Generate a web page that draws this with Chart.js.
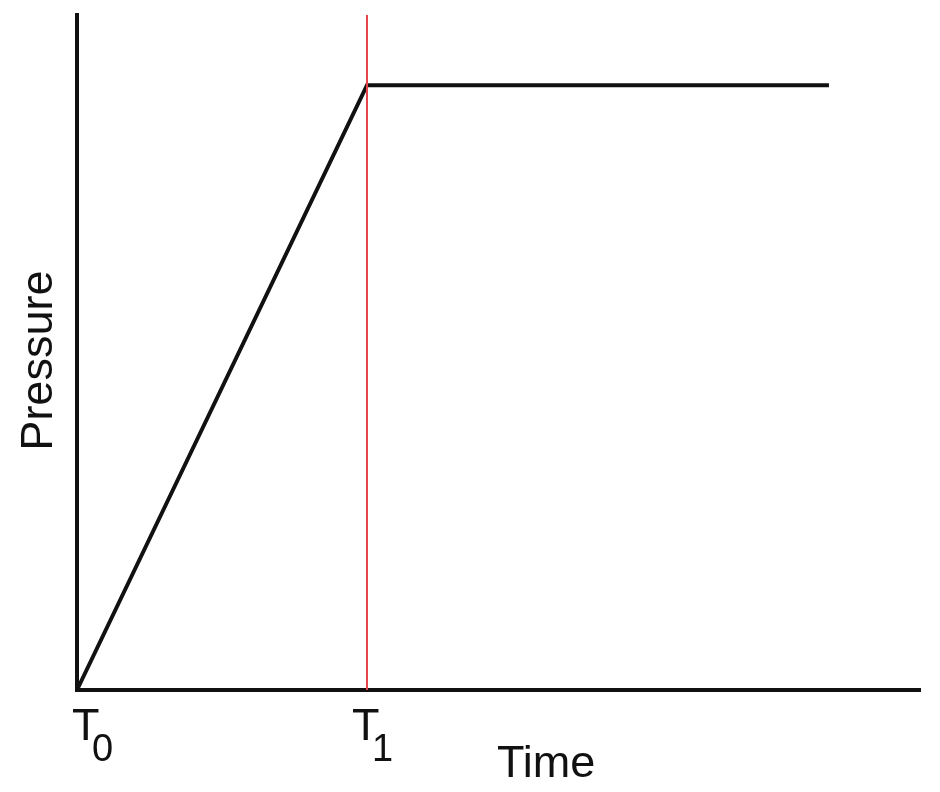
<!DOCTYPE html>
<html><head><meta charset="utf-8">
<script src="https://cdn.jsdelivr.net/npm/chart.js@4/dist/chart.umd.min.js"></script>
<style>html,body{margin:0;padding:0;background:#fff;overflow:hidden}#wrap{width:940px;height:792px;position:relative}</style>
</head><body><div id="wrap"><canvas id="c"></canvas></div>
<script>
// Data
const timeValues = [0, 1, 2.593];
const pressureValues = [0, 1, 1];
const markerTime = [1, 1];
const markerPressure = [0, 1.116];
const tickValues = [0, 1];
const tickMain = ['T', 'T'];
const tickSub = ['0', '1'];
const xTitle = 'Time';
const yTitle = 'Pressure';
const xMax = 2.907;
const yMax = 1.116;

const FONT = '"Liberation Sans", Arial, Helvetica, sans-serif';

const labelPlugin = {
  id: 'labels',
  afterDraw(chart) {
    const ctx = chart.ctx;
    const xs = chart.scales.x, ys = chart.scales.y;
    const area = chart.chartArea;
    ctx.save();
    ctx.fillStyle = '#111';
    ctx.textBaseline = 'alphabetic';
    ctx.textAlign = 'left';
    tickValues.forEach((v, i) => {
      const px = xs.getPixelForValue(v);
      const ox = i === 0 ? px - 5 : px - 15;
      ctx.font = '45px ' + FONT;
      ctx.fillText(tickMain[i], ox, area.bottom + 50);
      ctx.font = '38px ' + FONT;
      ctx.fillText(tickSub[i], ox + 20, area.bottom + 71);
    });
    ctx.font = '45px ' + FONT;
    ctx.fillText(xTitle, xs.getPixelForValue(1.448), area.bottom + 87);
    ctx.translate(area.left - 25, ys.getPixelForValue(yMax * 0.488));
    ctx.rotate(-Math.PI / 2);
    ctx.textAlign = 'center';
    ctx.fillText(yTitle, 0, 0);
    ctx.restore();
  }
};

new Chart(document.getElementById('c'), {
  type: 'scatter',
  data: {
    datasets: [
      {
        data: markerTime.map((t, i) => ({x: t, y: markerPressure[i]})),
        showLine: true, borderColor: '#e8424a', borderWidth: 2,
        pointRadius: 0, clip: false
      },
      {
        data: timeValues.map((t, i) => ({x: t, y: pressureValues[i]})),
        showLine: true, borderColor: '#111', borderWidth: 4,
        borderJoinStyle: 'miter', borderCapStyle: 'butt',
        pointRadius: 0, clip: false
      }
    ]
  },
  options: {
    responsive: true, maintainAspectRatio: false, animation: false,
    devicePixelRatio: 1,
    layout: {padding: {top: 15, right: 20, left: 0, bottom: 0}},
    plugins: {legend: {display: false}, tooltip: {enabled: false}},
    scales: {
      x: {
        type: 'linear', min: 0, max: xMax, z: 1,
        grid: {display: false, drawTicks: false},
        ticks: {display: false},
        border: {display: true, color: '#111', width: 4},
        afterFit: s => { s.height = 102; }
      },
      y: {
        type: 'linear', min: 0, max: yMax, z: 1,
        grid: {display: false, drawTicks: false},
        ticks: {display: false},
        border: {display: true, color: '#111', width: 4},
        afterFit: s => { s.width = 77; }
      }
    }
  },
  plugins: [labelPlugin]
});
</script></body></html>
